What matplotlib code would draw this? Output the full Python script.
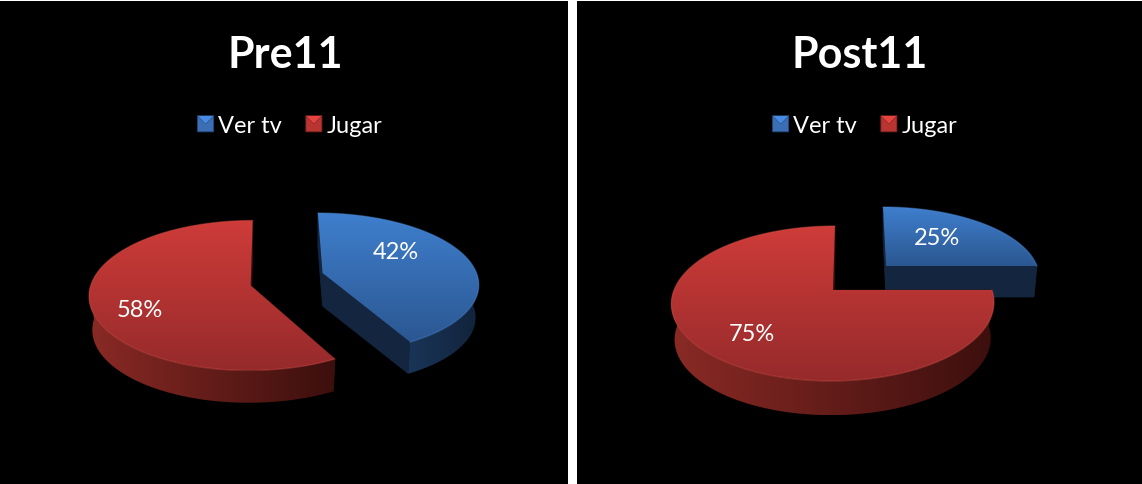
import numpy as np
import matplotlib
matplotlib.use("Agg")
import matplotlib.pyplot as plt
from matplotlib.colors import LinearSegmentedColormap
from matplotlib.legend_handler import HandlerPatch
from matplotlib.patches import Patch, Polygon

plt.rcParams['font.family'] = ['Lato', 'DejaVu Sans']

W, H = 1142, 485

categories = ["Ver tv", "Jugar"]
titles = ["Pre11", "Post11"]
pre11 = [42, 58]
post11 = [25, 75]

# colours per slice: top light, top dark, side light, side dark, cut face, rim
BLUE = ("#3F7FCE", "#2B5791", "#1A3558", "#11233B", "#14263F", "#4F8FDC")
RED = ("#CE3C39", "#962A2B", "#8A2A25", "#3C0F0D", "#3C0F0D", "#D9524C")

# pixel geometry of each slice: apex x, apex y, rx, ry, perspective, lean, depth
LEFT_GEOM = [(322.5, 274, 154, 70, 0.143, -4.7, 33), (250.7, 286.5, 160, 75, 0.133, 2, 34)]
RIGHT_GEOM = [(886, 267, 151, 70, 0.157, -3, 31), (833, 291, 159, 77.5, 0.174, 2, 36)]


def project(t, geom, down=False):
    ax0, ay0, rx, ry, k, lean, depth = geom
    u, v = np.cos(t), np.sin(t)
    x = rx * u * (1 - k * v) + lean * v
    y = -ry * v * (1 - k * v)
    if down:
        return ax0 + x * 0.98, ay0 + y * 0.98 + depth
    return ax0 + x, ay0 + y


def gradient_fill(ax, xy, c0, c1, vertical=True, zorder=2):
    cmap = LinearSegmentedColormap.from_list("g", [c0, c1])
    xy = np.asarray(xy)
    x0, x1 = xy[:, 0].min(), xy[:, 0].max()
    y0, y1 = xy[:, 1].min(), xy[:, 1].max()
    g = np.linspace(0, 1, 256)
    g = g[:, None] if vertical else g[None, :]
    im = ax.imshow(g, cmap=cmap, extent=(x0, x1, y1, y0), aspect="auto", zorder=zorder,
                   interpolation="bilinear", vmin=0, vmax=1)
    clip = Polygon(xy, closed=True, transform=ax.transData, fc="none", ec="none")
    ax.add_patch(clip)
    im.set_clip_path(clip)


def draw_slice(ax, a0, a1, geom, colors):
    # a0 > a1, going clockwise, in degrees
    top_l, top_d, side_l, side_d, cut, rim = colors
    ts = np.radians(np.linspace(a0, a1, 200))
    ax0, ay0 = geom[0], geom[1]
    ax1, ay1 = ax0, ay0 + geom[6]

    # cut faces
    for a in (a0, a1):
        px, py = project(np.radians(a), geom)
        qx, qy = project(np.radians(a), geom, down=True)
        ax.add_patch(Polygon([(ax0, ay0), (px, py), (qx, qy), (ax1, ay1)], fc=cut, ec=cut, lw=0.5, zorder=2))

    # outer wall, only the part that faces the viewer
    lo, hi = max(a1, -180), min(a0, 0)
    if hi > lo:
        ws = np.radians(np.linspace(hi, lo, 150))
        tx, ty = project(ws, geom)
        bx, by = project(ws, geom, down=True)
        wall = np.r_[np.c_[tx, ty], np.c_[bx, by][::-1]]
        gradient_fill(ax, wall, side_l, side_d, vertical=False, zorder=3)

    # top face
    tx, ty = project(ts, geom)
    top = np.r_[[(ax0, ay0)], np.c_[tx, ty]]
    gradient_fill(ax, top, top_l, top_d, zorder=4)

    # light rim on the outer edge
    ax.plot(tx, ty, color=rim, lw=1.0, alpha=0.4, zorder=5, solid_capstyle="round")


class BevelHandler(HandlerPatch):
    def create_artists(self, legend, orig_handle, xdescent, ydescent, width, height, fontsize, trans):
        x0, y0 = -xdescent, -ydescent
        x1, y1 = x0 + width, y0 + height
        xm, ym = (x0 + x1) / 2, (y0 + y1) / 2
        base = orig_handle.get_facecolor()
        dark = tuple(c * 0.65 for c in base[:3])
        light = tuple(min(1, c * 1.25) for c in base[:3])
        parts = [
            Polygon([(x0, y0), (x0, y1), (xm, ym), (x1, y1), (x1, y0)], fc=base, ec=dark, lw=0.6),
            Polygon([(x0, y1), (x1, y1), (xm, ym)], fc=light, ec="none"),
        ]
        for p in parts:
            p.set_transform(trans)
        return parts


def draw_panel(box, title, values, geoms, label_pos, title_x, legend_x):
    x0, y0, x1, y1 = box
    ax = fig.add_axes([x0 / W, 1 - y1 / H, (x1 - x0) / W, (y1 - y0) / H], facecolor="black")
    ax.set_xticks([])
    ax.set_yticks([])
    for s in ax.spines.values():
        s.set_visible(False)

    fracs = np.array(values) / sum(values)
    edges = 90 - 360 * np.r_[0, np.cumsum(fracs)]
    for i, colors in enumerate((BLUE, RED)):
        draw_slice(ax, edges[i], edges[i + 1], geoms[i], colors)
        ax.text(label_pos[i][0], label_pos[i][1], f"{values[i]}%", color="white", fontsize=17,
                ha="center", va="center", zorder=6)

    ax.set_xlim(x0, x1)
    ax.set_ylim(y1, y0)

    ax.text(title_x, 55, title, color="white", fontsize=31, fontweight="bold", ha="center", va="center")

    handles = [Patch(facecolor="#3A6FB5", label=categories[0]), Patch(facecolor="#B83532", label=categories[1])]
    ax.legend(handles=handles, ncols=2, loc="center", bbox_to_anchor=(legend_x, 126.5),
              bbox_transform=ax.transData, frameon=False, labelcolor="white", fontsize=17,
              handler_map={Patch: BevelHandler()}, handlelength=0.68, handleheight=0.68,
              handletextpad=0.2, columnspacing=1.0, borderpad=0)


fig = plt.figure(figsize=(W / 100, H / 100), dpi=100, facecolor="white")

draw_panel((0, 2, 568, 485), titles[0], pre11, LEFT_GEOM, [(396, 253), (140, 311)], 285, 290)
draw_panel((577, 2, 1142, 485), titles[1], post11, RIGHT_GEOM, [(937, 239), (752, 335)], 860, 865)

fig.savefig("out.png", dpi=100, facecolor="white")
